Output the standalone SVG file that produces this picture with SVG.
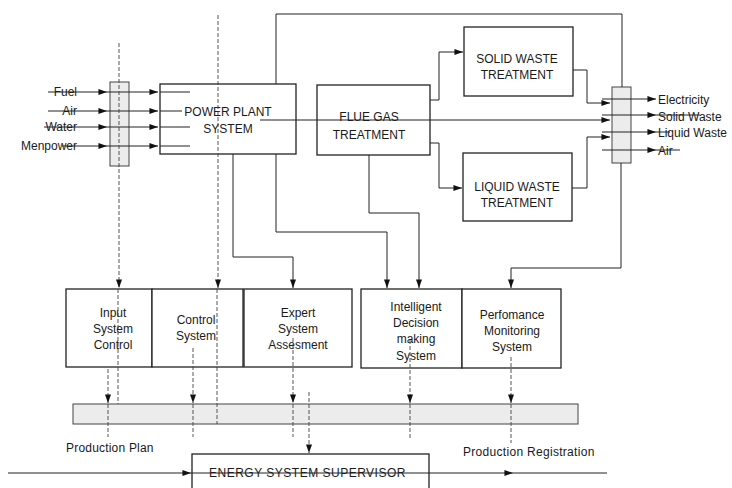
<svg xmlns="http://www.w3.org/2000/svg" width="732" height="488" viewBox="0 0 732 488">
<defs>
<style>
text{font-family:"Liberation Sans",Arial,sans-serif;font-size:12px;fill:#1a1a1a}
.c{text-anchor:middle}
.e{text-anchor:end}
.box{fill:#fff;stroke:#222;stroke-width:1.3}
.bar{fill:#ececec;stroke:#444;stroke-width:1}
.ln{fill:none;stroke:#222;stroke-width:1}
.ds{fill:none;stroke:#444;stroke-width:0.9;stroke-dasharray:4 2}
.a{marker-end:url(#arr)}
</style>
<marker id="arr" viewBox="0 0 10 7" refX="10" refY="3.5" markerWidth="9" markerHeight="6" markerUnits="userSpaceOnUse" orient="auto">
<path d="M0,0 L10,3.5 L0,7 z" fill="#111"/>
</marker>
</defs>
<rect width="732" height="488" fill="#fff"/>

<g id="input-bar"><rect class="bar" x="110" y="82" width="19" height="84"/></g>
<g id="power-plant"><rect class="box" x="160" y="84" width="136" height="70"/>
<text class="c" x="228" y="116">POWER PLANT</text><text class="c" x="228" y="133">SYSTEM</text></g>
<g id="flue-gas"><rect class="box" x="317" y="85" width="113" height="70"/>
<text class="c" x="369" y="121">FLUE GAS</text><text class="c" x="369" y="139">TREATMENT</text></g>
<g id="solid-waste"><rect class="box" x="464" y="27" width="109" height="69"/>
<text class="c" x="517" y="63">SOLID WASTE</text><text class="c" x="517" y="79">TREATMENT</text></g>
<g id="liquid-waste"><rect class="box" x="463" y="153" width="109" height="68"/>
<text class="c" x="517" y="191">LIQUID WASTE</text><text class="c" x="517" y="207">TREATMENT</text></g>
<g id="output-bar"><rect class="bar" x="612" y="87" width="19" height="76"/></g>

<g id="input-system-control"><rect class="box" x="66" y="289" width="86" height="78"/>
<text class="c" x="113" y="317">Input</text><text class="c" x="113" y="333">System</text><text class="c" x="113" y="349">Control</text></g>
<g id="control-system"><rect class="box" x="152" y="289" width="91" height="78"/>
<text class="c" x="196" y="324">Control</text><text class="c" x="196" y="340">System</text></g>
<g id="expert-system"><rect class="box" x="244" y="289" width="108" height="78"/>
<text class="c" x="298" y="317">Expert</text><text class="c" x="298" y="333">System</text><text class="c" x="298" y="349">Assesment</text></g>
<g id="intelligent-decision"><rect class="box" x="361" y="289" width="101" height="79"/>
<text class="c" x="416" y="311">Intelligent</text><text class="c" x="416" y="327">Decision</text><text class="c" x="416" y="343">making</text><text class="c" x="416" y="360">System</text></g>
<g id="performance-monitoring"><rect class="box" x="462" y="289" width="99" height="79"/>
<text class="c" x="512" y="319">Perfomance</text><text class="c" x="512" y="335">Monitoring</text><text class="c" x="512" y="351">System</text></g>

<g id="production-bar"><rect class="bar" x="73" y="404" width="505" height="20"/></g>
<g id="supervisor"><rect class="box" x="192" y="454" width="237" height="40"/>
<text x="209" y="477" letter-spacing="0.5">ENERGY SYSTEM SUPERVISOR</text></g>

<g id="labels">
<text class="e" x="77" y="96">Fuel</text>
<text class="e" x="77" y="115">Air</text>
<text class="e" x="77" y="131">Water</text>
<text class="e" x="77" y="150">Menpower</text>
<text x="658" y="104">Electricity</text>
<text x="658" y="121">Solid Waste</text>
<text x="658" y="137">Liquid Waste</text>
<text x="658" y="155">Air</text>
<text x="66" y="452" letter-spacing="0.2">Production Plan</text>
<text x="463" y="456" letter-spacing="0.3">Production Registration</text>
</g>

<g id="connectors">
<path class="ln a" d="M48,92 H107"/><path class="ln a" d="M107,92 H158"/><path class="ln" d="M160,92 H190"/>
<path class="ln a" d="M48,111 H107"/><path class="ln a" d="M107,111 H158"/><path class="ln" d="M160,111 H182"/>
<path class="ln a" d="M44,127 H107"/><path class="ln a" d="M107,127 H158"/><path class="ln" d="M160,127 H190"/>
<path class="ln a" d="M62,146 H107"/><path class="ln a" d="M107,146 H158"/><path class="ln" d="M160,146 H190"/>
<path class="ln a" d="M260,120 H610"/>
<path class="ln" d="M276,84 V14 H622 V87"/>
<path class="ln a" d="M430,100 H439 V52 H463"/>
<path class="ln a" d="M430,143 H439 V188 H462"/>
<path class="ln a" d="M573,70 H587 V103 H610"/>
<path class="ln a" d="M572,188 H587 V137 H610"/>
<path class="ln a" d="M602,99 H656"/>
<path class="ln a" d="M602,115 H656"/><path class="ln" d="M656,115 H700"/>
<path class="ln a" d="M602,132 H656"/><path class="ln" d="M656,132 H670"/>
<path class="ln a" d="M602,150 H656"/><path class="ln" d="M656,150 H680"/>
<path class="ln a" d="M369,155 V213 H419 V288"/>
<path class="ln a" d="M276,154 V232 H387 V288"/>
<path class="ln a" d="M233,154 V257 H293 V288"/>
<path class="ln a" d="M621,163 V268 H511 V288"/>
<path class="ds a" d="M119,43 V288"/>
<path class="ds" d="M118,289 V404"/>
<path class="ds a" d="M218,15 V288"/>
<path class="ds" d="M217,289 V424"/>
<path class="ds a" d="M108,369 V403"/>
<path class="ds a" d="M193,348 V403"/>
<path class="ds a" d="M293,338 V403"/>
<path class="ds a" d="M410,340 V403"/>
<path class="ds a" d="M511,357 V403"/>
<path class="ds" d="M108,404 V437 M193,404 V437 M293,404 V437 M410,404 V440 M511,404 V443"/>
<path class="ds a" d="M309,392 V453"/>
<path class="ln a" d="M8,473 H191"/>
<path class="ln a" d="M191,473 H513"/>
<path class="ln" d="M513,473 H607"/>
</g>
</svg>
